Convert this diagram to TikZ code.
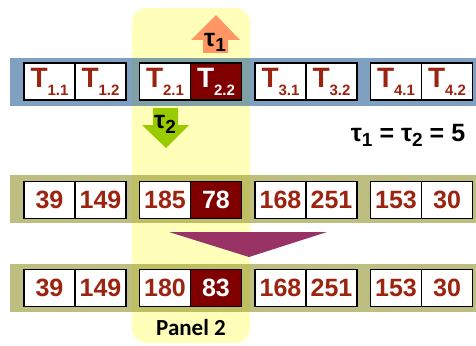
\documentclass[tikz,border=0pt]{standalone}
\usepackage{fontspec}
\setmainfont{Liberation Sans}
\newfontfamily\panelfont{Carlito}
\definecolor{bandblue}{RGB}{42,97,150}
\definecolor{bandolive}{RGB}{147,147,43}
\definecolor{panelyellow}{RGB}{255,255,185}
\definecolor{numred}{RGB}{155,35,15}
\definecolor{hotred}{RGB}{128,0,0}
\definecolor{tauorange}{RGB}{255,150,100}
\definecolor{taugreen}{RGB}{153,204,0}
\definecolor{mergepurple}{RGB}{153,51,102}
\newcommand{\tlabel}[1]{{\fontsize{28}{28}\selectfont T}\raisebox{-8pt}{\fontsize{15}{15}\selectfont #1}}
\newcommand{\tausym}[1]{{\fontsize{25}{25}\selectfont τ}\raisebox{-5pt}{\fontsize{19}{19}\selectfont #1}}
\begin{document}
\begin{tikzpicture}[x=1pt,y=-1pt,
  cell/.style={draw,line width=1.2,fill=white,minimum width=51,minimum height=37,inner sep=0,text=numred,font=\bfseries\fontsize{25}{25}\selectfont},
  hot/.style={cell,fill=hotred,text=white}]
\useasboundingbox (0,0) rectangle (476,345);
\fill[panelyellow,rounded corners=15] (132,8) rectangle (250,343);
\foreach \y/\c in {82/bandblue,199/bandolive,288/bandolive}
  \fill[\c,opacity=0.6] (10,\y-24) rectangle (476,\y+24);
% tasks
\foreach \lab/\sty [count=\k] in {1.1/cell,1.2/cell,2.1/cell,2.2/hot,3.1/cell,3.2/cell,4.1/cell,4.2/cell}
 {\pgfmathsetmacro\cx{24+115.5*int((\k-1)/2)+51*mod(\k-1,2)+25.5}
  \node[\sty] (t\k) at (\cx,81.5) {\tlabel{\lab}};}
% values before and after
\foreach \v/\sty [count=\k] in {39/cell,149/cell,185/cell,78/hot,168/cell,251/cell,153/cell,30/cell}
 {\pgfmathsetmacro\cx{24+115.5*int((\k-1)/2)+51*mod(\k-1,2)+25.5}
  \node[\sty] (m\k) at (\cx,200) {\v};}
\foreach \v/\sty [count=\k] in {39/cell,149/cell,180/cell,83/hot,168/cell,251/cell,153/cell,30/cell}
 {\pgfmathsetmacro\cx{24+115.5*int((\k-1)/2)+51*mod(\k-1,2)+25.5}
  \node[\sty] (n\k) at (\cx,288) {\v};}
\fill[tauorange] (203,53) -- (203,40) -- (191,40) -- (216,15) -- (240,40) -- (228,40) -- (228,53) -- cycle;
\node[font=\bfseries] (tau1) at (215,42) {\tausym{1}};
\fill[taugreen] (153,108) -- (178,108) -- (178,125) -- (189,125) -- (166,148) -- (142,125) -- (153,125) -- cycle;
\node[font=\bfseries] (tau2) at (165,124) {\tausym{2}};
\fill[mergepurple] (169,232) -- (327,232) -- (249,257) -- cycle;
\node[font=\bfseries\fontsize{25}{25}\selectfont] (eq) at (408,135) {\tausym{1} = \tausym{2} = 5};
\node[font=\panelfont\bfseries\fontsize{23}{23}\selectfont] (panel) at (191,328) {Panel 2};
\end{tikzpicture}
\end{document}
